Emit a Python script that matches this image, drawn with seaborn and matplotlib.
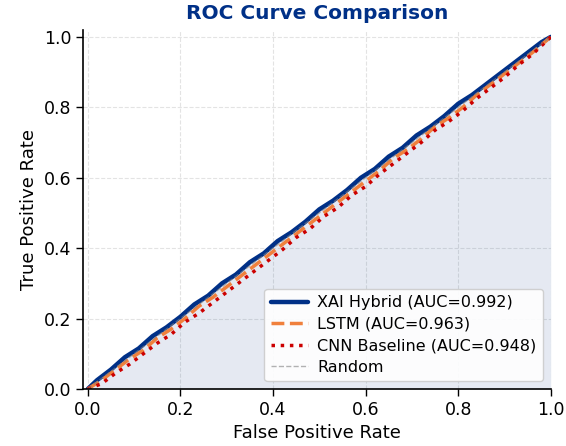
import numpy as np
import pandas as pd
import matplotlib
matplotlib.use('Agg')
import matplotlib.pyplot as plt
import seaborn as sns

# ROC points
xai_fpr = [0.0, 0.02, 0.05, 0.08, 0.11, 0.14, 0.17, 0.20, 0.23, 0.26, 0.29, 0.32,
           0.35, 0.38, 0.41, 0.44, 0.47, 0.50, 0.53, 0.56, 0.59, 0.62, 0.65, 0.68,
           0.71, 0.74, 0.77, 0.80, 0.83, 0.86, 0.89, 0.92, 0.95, 0.98, 1.0]
xai_tpr = [0.0, 0.025, 0.055, 0.09, 0.115, 0.15, 0.175, 0.205, 0.24, 0.265, 0.30, 0.325,
           0.36, 0.385, 0.42, 0.445, 0.475, 0.51, 0.535, 0.565, 0.60, 0.625, 0.66, 0.685,
           0.72, 0.745, 0.775, 0.81, 0.835, 0.865, 0.895, 0.925, 0.955, 0.985, 1.0]

lstm_fpr = [0.0, 0.03, 0.06, 0.09, 0.12, 0.15, 0.18, 0.21, 0.24, 0.27, 0.30, 0.33,
            0.36, 0.39, 0.42, 0.45, 0.48, 0.51, 0.54, 0.57, 0.60, 0.63, 0.66, 0.69,
            0.72, 0.75, 0.78, 0.81, 0.84, 0.87, 0.90, 0.93, 0.96, 1.0]
lstm_tpr = [0.0, 0.025, 0.055, 0.085, 0.11, 0.145, 0.17, 0.20, 0.235, 0.26, 0.29, 0.32,
            0.35, 0.38, 0.41, 0.44, 0.47, 0.50, 0.53, 0.56, 0.59, 0.62, 0.655, 0.68,
            0.71, 0.745, 0.77, 0.80, 0.835, 0.865, 0.895, 0.925, 0.955, 1.0]

cnn_fpr = [0.0, 0.03, 0.06, 0.09, 0.12, 0.15, 0.18, 0.21, 0.24, 0.27, 0.30, 0.33,
           0.36, 0.39, 0.42, 0.45, 0.48, 0.51, 0.54, 0.57, 0.60, 0.63, 0.66, 0.69,
           0.72, 0.75, 0.78, 0.81, 0.84, 0.87, 0.90, 0.93, 0.96, 1.0]
cnn_tpr = [0.0, 0.015, 0.045, 0.07, 0.10, 0.13, 0.155, 0.19, 0.215, 0.245, 0.275, 0.305,
           0.335, 0.365, 0.395, 0.43, 0.455, 0.49, 0.515, 0.55, 0.575, 0.61, 0.64, 0.67,
           0.70, 0.735, 0.76, 0.79, 0.825, 0.855, 0.885, 0.92, 0.95, 1.0]

labels = ['XAI Hybrid (AUC=0.992)', 'LSTM (AUC=0.963)', 'CNN Baseline (AUC=0.948)']
colors = ['#003087', '#f0803c', '#cc0000']

sns.set_style('ticks')
plt.rcParams['font.family'] = ['DejaVu Sans']
plt.rcParams['text.color'] = 'black'
plt.rcParams['axes.labelcolor'] = 'black'
plt.rcParams['xtick.color'] = 'black'
plt.rcParams['ytick.color'] = 'black'

fig = plt.figure(figsize=(5.66, 4.46), dpi=100)
ax = fig.add_axes([0.147, 0.128, 0.826, 0.805])

sns.lineplot(x=xai_fpr, y=xai_tpr, ax=ax, color=colors[0], lw=3.2,
             label=labels[0], sort=False)
sns.lineplot(x=lstm_fpr, y=lstm_tpr, ax=ax, color=colors[1], lw=2.5,
             linestyle='--', label=labels[1], sort=False)
sns.lineplot(x=cnn_fpr, y=cnn_tpr, ax=ax, color=colors[2], lw=2.5,
             linestyle=':', label=labels[2], sort=False)
ax.plot([0, 1], [0, 1], color='gray', lw=1, linestyle='--', alpha=0.6,
        label='Random')
ax.fill_between(xai_fpr, xai_tpr, color=colors[0], alpha=0.1, lw=0)

ax.set_xlim(-0.01, 1.0)
ax.set_ylim(0.0, 1.02)
ax.set_xticks([0, 0.2, 0.4, 0.6, 0.8, 1.0])
ax.set_yticks([0, 0.2, 0.4, 0.6, 0.8, 1.0])
ax.grid(True, linestyle='--', color='#dddddd', lw=0.8, alpha=0.8)
ax.tick_params(axis='both', labelsize=12.5, length=5, width=1, direction='out')
for s in ['top', 'right']:
    ax.spines[s].set_visible(False)
for s in ['left', 'bottom']:
    ax.spines[s].set_color('black')
    ax.spines[s].set_linewidth(1.2)

ax.set_xlabel('False Positive Rate', fontsize=13)
ax.set_ylabel('True Positive Rate', fontsize=13)
ax.set_title('ROC Curve Comparison', fontsize=14.5, fontweight='bold',
             color='#003087', pad=8)
ax.legend(loc='lower right', fontsize=11.5, frameon=True, framealpha=0.9,
          edgecolor='#cccccc', handlelength=2.3, handletextpad=0.6,
          labelspacing=0.4)

plt.savefig('out.png', dpi=100)
